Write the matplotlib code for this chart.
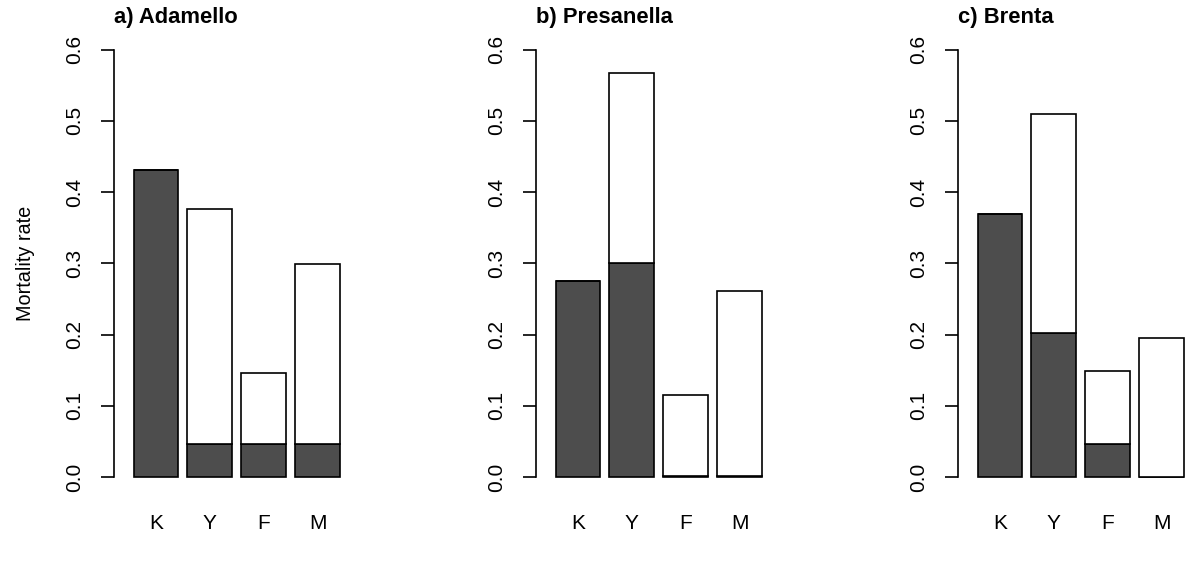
import matplotlib
matplotlib.use("Agg")
import matplotlib.pyplot as plt
import numpy as np

plt.rcParams['font.family'] = ['Liberation Sans', 'DejaVu Sans']

categories = ['K', 'Y', 'F', 'M']
titles = ['a) Adamello', 'b) Presanella', 'c) Brenta']

total_adamello = [0.431, 0.376, 0.146, 0.299]
dark_adamello = [0.431, 0.047, 0.047, 0.047]

total_presanella = [0.275, 0.567, 0.115, 0.261]
dark_presanella = [0.275, 0.300, 0.002, 0.002]

total_brenta = [0.369, 0.509, 0.149, 0.195]
dark_brenta = [0.369, 0.202, 0.046, 0.0]

yticks = [0.0, 0.1, 0.2, 0.3, 0.4, 0.5, 0.6]
ytick_labels = ['0.0', '0.1', '0.2', '0.3', '0.4', '0.5', '0.6']

W, H = 1195, 582
fig = plt.figure(figsize=(W / 100, H / 100), dpi=100)

lefts_px = [114, 536, 958]
ax_w_px = 236
ax_top_px = 32.4
ax_bot_px = 494.1

panels = [(total_adamello, dark_adamello),
          (total_presanella, dark_presanella),
          (total_brenta, dark_brenta)]

x = np.arange(len(categories))
bw = 1 / 1.2

for i, (tot, dark) in enumerate(panels):
    ax = fig.add_axes([lefts_px[i] / W, 1 - ax_bot_px / H,
                       ax_w_px / W, (ax_bot_px - ax_top_px) / H])
    tot = np.array(tot)
    dark = np.array(dark)
    ax.bar(x, dark, width=bw, color='#4d4d4d', edgecolor='black', linewidth=1.2)
    ax.bar(x, tot - dark, bottom=dark, width=bw, color='white',
           edgecolor='black', linewidth=1.2)
    ax.set_xlim(-0.78, 3.6)
    ax.set_ylim(-0.024, 0.624)
    for s in ['top', 'right', 'bottom']:
        ax.spines[s].set_visible(False)
    ax.spines['left'].set_bounds(0, 0.6)
    ax.spines['left'].set_linewidth(1.2)
    ax.set_yticks(yticks)
    ax.set_yticklabels(ytick_labels, rotation=90, va='center', fontsize=15)
    ax.tick_params(axis='y', length=9.4, width=1.2, pad=12)
    ax.set_xticks(x)
    ax.set_xticklabels(categories, fontsize=15)
    ax.tick_params(axis='x', length=0, pad=14)
    if i == 0:
        ax.set_ylabel('Mortality rate', fontsize=14.3, labelpad=22)
    fig.text(lefts_px[i] / W, 1 - 17 / H, titles[i], fontsize=15.8,
             fontweight='bold', ha='left', va='center')

fig.savefig('out.png', dpi=100)
